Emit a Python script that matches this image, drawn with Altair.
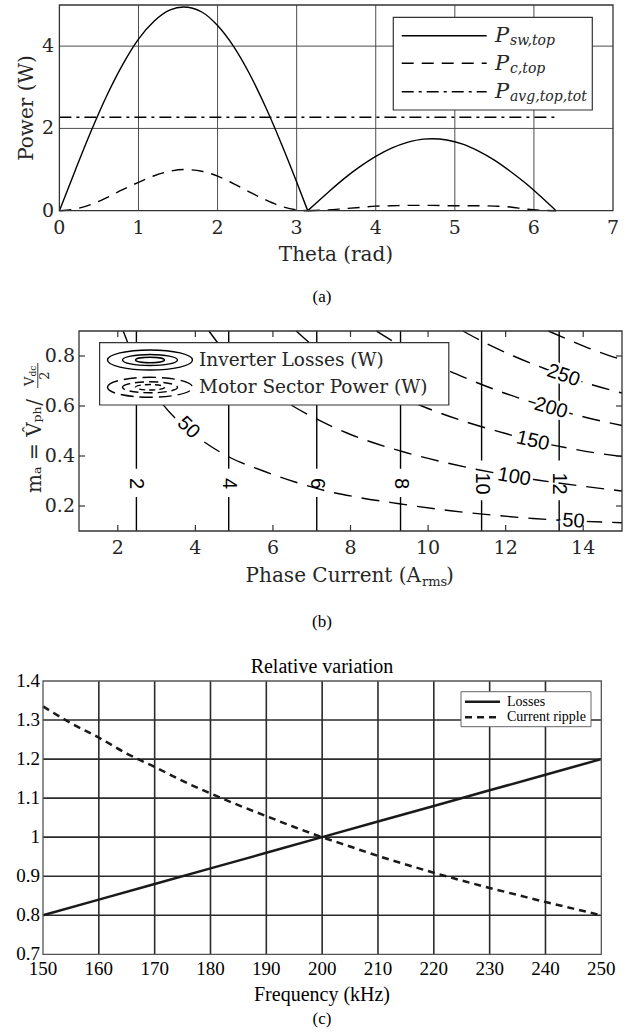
import altair as alt
import pandas as pd

SERIF = "DejaVu Serif"
TIMES = "'Liberation Serif', 'Times New Roman', Times, serif"
SANS = "'Liberation Sans', Arial, Helvetica, sans-serif"
INK = "#262626"

# ---------------- Panel (a) data ----------------
theta_hump1 = [0, 0.2, 0.4, 0.6, 0.8, 1.0, 1.2, 1.4, 1.57, 1.8, 2.0, 2.2, 2.4, 2.6, 2.8, 3.0, 3.14]
psw_hump1 = [0, 0.98, 1.93, 2.80, 3.55, 4.17, 4.61, 4.88, 4.95, 4.83, 4.50, 4.00, 3.34, 2.55, 1.66, 0.70, 0]
pc_hump1 = [0, 0.04, 0.15, 0.32, 0.51, 0.69, 0.85, 0.96, 1.0, 0.96, 0.84, 0.66, 0.46, 0.27, 0.11, 0.02, 0]
theta_hump2 = [3.14, 3.4, 3.6, 3.8, 4.0, 4.2, 4.4, 4.6, 4.71, 4.9, 5.1, 5.3, 5.5, 5.7, 5.9, 6.1, 6.28]
psw_hump2 = [0, 0.45, 0.78, 1.07, 1.32, 1.52, 1.66, 1.74, 1.75, 1.72, 1.62, 1.45, 1.23, 0.96, 0.66, 0.32, 0]
pc_hump2 = [0, 0.02, 0.05, 0.08, 0.11, 0.12, 0.13, 0.13, 0.13, 0.12, 0.12, 0.12, 0.11, 0.09, 0.04, 0.01, 0]
theta_avg = [0, 6.28]
p_avg = [2.27, 2.27]
a_x_ticks = [0, 1, 2, 3, 4, 5, 6, 7]
a_y_ticks = [0, 2, 4]
a_x_grid = [1, 2, 3, 4, 5, 6]
a_y_grid = [2, 4]

# ---------------- Panel (b) data ----------------
b_x_ticks = [2, 4, 6, 8, 10, 12, 14]
b_y_ticks = [0.2, 0.4, 0.6, 0.8]
b_y_labels = ["0.2", "0.4", "0.6", "0.8"]
loss_levels = ["2", "4", "6", "8", "10", "12"]
loss_current = [2.48, 4.86, 7.13, 9.29, 11.38, 13.38]
loss_gap_low = [0.236, 0.236, 0.236, 0.236, 0.223, 0.223]
loss_gap_high = [0.349, 0.349, 0.349, 0.349, 0.382, 0.382]
loss_label_ma = 0.29

p50_I = [2.14, 2.4, 3.0, 3.77, 4.24, 4.88, 5.72, 6.57, 7.41, 8.15, 9.21, 10.58, 11.64, 12.70, 13.7, 15.0]
p50_m = [0.90, 0.80, 0.64, 0.51, 0.455, 0.395, 0.342, 0.296, 0.259, 0.236, 0.21, 0.181, 0.164, 0.15, 0.141, 0.133]
p100_I = [4.35, 4.85, 5.5, 6.36, 7.10, 7.94, 9.42, 10.58, 11.8, 12.9, 14.0, 15.0]
p100_m = [0.90, 0.80, 0.705, 0.614, 0.55, 0.49, 0.414, 0.369, 0.33, 0.302, 0.279, 0.26]
p150_I = [6.6, 7.2, 8.0, 9.0, 10.0, 11.0, 12.0, 12.7, 13.5, 14.3, 15.0]
p150_m = [0.90, 0.82, 0.74, 0.655, 0.59, 0.535, 0.49, 0.46, 0.435, 0.413, 0.398]
p200_I = [8.67, 9.3, 10.0, 11.0, 12.0, 13.17, 14.0, 15.0]
p200_m = [0.90, 0.84, 0.78, 0.71, 0.65, 0.592, 0.557, 0.522]
p250_I = [10.9, 11.5, 12.2, 13.0, 13.49, 14.2, 15.0]
p250_m = [0.90, 0.85, 0.80, 0.75, 0.722, 0.686, 0.652]
p300_I = [13.1, 13.7, 14.3, 15.0]
p300_m = [0.90, 0.86, 0.822, 0.785]

power_label_text = ["50", "50", "100", "150", "200", "250"]
power_label_I = [3.82, 13.75, 12.22, 12.70, 13.17, 13.49]
power_label_m = [0.514, 0.140, 0.316, 0.460, 0.592, 0.722]

# ---------------- Panel (c) data ----------------
freq_losses = [150, 160, 170, 180, 190, 200, 210, 220, 230, 240, 250]
rel_losses = [0.80, 0.84, 0.88, 0.92, 0.96, 1.00, 1.04, 1.08, 1.12, 1.16, 1.20]
freq_ripple = [150, 155, 160, 165, 170, 175, 180, 185, 190, 195, 200, 205, 210, 215, 220, 225, 230, 235, 240, 245, 250]
rel_ripple = [1.335, 1.292, 1.255, 1.214, 1.18, 1.144, 1.112, 1.082, 1.054, 1.026, 1.0, 0.976, 0.952, 0.93,
              0.909, 0.889, 0.87, 0.852, 0.834, 0.817, 0.80]
c_x_ticks = [150, 160, 170, 180, 190, 200, 210, 220, 230, 240, 250]
c_y_ticks = [0.7, 0.8, 0.9, 1.0, 1.1, 1.2, 1.3, 1.4]
c_y_labels = ["0.7", "0.8", "0.9", "1", "1.1", "1.2", "1.3", "1.4"]
c_x_grid = [160, 170, 180, 190, 200, 210, 220, 230, 240]
c_y_grid = [0.8, 0.9, 1.0, 1.1, 1.2, 1.3]

# ---------------- layout (pixels) ----------------
A_L, A_R, A_T, A_B = 59.4, 613, 5, 210.7
B_L, B_R, B_T, B_B = 79, 622, 331, 531
C_L, C_R, C_T, C_B = 43, 601.3, 681, 954.3

sxa = alt.Scale(domain=[0, 7], range=[A_L, A_R], nice=False, zero=False)
sya = alt.Scale(domain=[0, 5], range=[A_B, A_T], nice=False, zero=False)
sxb = alt.Scale(domain=[1, 15], range=[B_L, B_R], nice=False, zero=False)
syb = alt.Scale(domain=[0.1, 0.9], range=[B_B, B_T], nice=False, zero=False)
sxc = alt.Scale(domain=[150, 250], range=[C_L, C_R], nice=False, zero=False)
syc = alt.Scale(domain=[0.7, 1.4], range=[C_B, C_T], nice=False, zero=False)

ONE = pd.DataFrame({"k": [0]})
layers = []


def X(f, s):
    return alt.X(f, scale=s, axis=None)


def Y(f, s):
    return alt.Y(f, scale=s, axis=None)


def txt(text, x, y, size, font=SERIF, align="center", baseline="middle", angle=0, style="normal", color=INK):
    return alt.Chart(ONE).mark_text(text=text, font=font, fontSize=size, align=align, baseline=baseline,
                                    angle=angle, fontStyle=style, color=color).encode(
        x=alt.value(x), y=alt.value(y))


def vgrid(vals, lo, hi, sx, sy, color, w):
    df = pd.DataFrame({"v": vals, "lo": lo, "hi": hi})
    return alt.Chart(df).mark_rule(color=color, strokeWidth=w).encode(
        x=X("v:Q", sx), y=Y("lo:Q", sy), y2="hi:Q")


def hgrid(vals, lo, hi, sx, sy, color, w):
    df = pd.DataFrame({"v": vals, "lo": lo, "hi": hi})
    return alt.Chart(df).mark_rule(color=color, strokeWidth=w).encode(
        y=Y("v:Q", sy), x=X("lo:Q", sx), x2="hi:Q")


def frame(x0, x1, y0, y1, sx, sy, color, w):
    df = pd.DataFrame({"x0": [x0], "x1": [x1], "y0": [y0], "y1": [y1]})
    return alt.Chart(df).mark_rect(fillOpacity=0, stroke=color, strokeWidth=w).encode(
        x=X("x0:Q", sx), x2="x1:Q", y=Y("y0:Q", sy), y2="y1:Q")


# ================= Panel (a) =================
layers.append(vgrid(a_x_grid, 0, 5, sxa, sya, "#4d4d4d", 1))
layers.append(hgrid(a_y_grid, 0, 7, sxa, sya, "#4d4d4d", 1))

df_sw = pd.DataFrame({"t": theta_hump1 + theta_hump2, "p": psw_hump1 + psw_hump2,
                      "seg": [1] * len(theta_hump1) + [2] * len(theta_hump2)})
df_c = pd.DataFrame({"t": theta_hump1 + theta_hump2, "p": pc_hump1 + pc_hump2,
                     "seg": [1] * len(theta_hump1) + [2] * len(theta_hump2)})
df_avg = pd.DataFrame({"t": theta_avg, "p": p_avg})
layers.append(alt.Chart(df_sw).mark_line(color="black", strokeWidth=1.4, interpolate="monotone").encode(
    x=X("t:Q", sxa), y=Y("p:Q", sya), detail="seg:N"))
layers.append(alt.Chart(df_c).mark_line(color="black", strokeWidth=1.4, strokeDash=[12, 8],
                                        interpolate="monotone").encode(
    x=X("t:Q", sxa), y=Y("p:Q", sya), detail="seg:N"))
layers.append(alt.Chart(df_avg).mark_line(color="black", strokeWidth=1.4, strokeDash=[12, 5, 3, 5]).encode(
    x=X("t:Q", sxa), y=Y("p:Q", sya)))
layers.append(frame(0, 7, 0, 5, sxa, sya, "#333333", 1.3))

# tick labels
layers.append(alt.Chart(pd.DataFrame({"v": a_x_ticks, "t": [str(v) for v in a_x_ticks]})).mark_text(
    font=SERIF, fontSize=19, color=INK, baseline="middle").encode(
    x=X("v:Q", sxa), y=alt.value(228), text="t:N"))
layers.append(alt.Chart(pd.DataFrame({"v": a_y_ticks, "t": [str(v) for v in a_y_ticks]})).mark_text(
    font=SERIF, fontSize=19, color=INK, align="right", baseline="middle").encode(
    y=Y("v:Q", sya), x=alt.value(54), text="t:N"))
layers.append(txt("Theta (rad)", 336, 255, 20))
layers.append(txt("Power (W)", 27, 108, 20, angle=270))
layers.append(txt("(a)", 322, 297, 17, font=TIMES, color="black"))

# legend (a)
layers.append(alt.Chart(ONE).mark_rect(fill="white", stroke="#333333", strokeWidth=1.2).encode(
    x=alt.value(393.3), x2=alt.value(592.3), y=alt.value(17.3), y2=alt.value(110)))
leg_a = [("sw,top", 35.7, []), ("c,top", 63.3, [12, 8]), ("avg,top,tot", 91.7, [12, 5, 3, 5])]
for sub, ly, dash in leg_a:
    kw = {"strokeDash": dash} if dash else {}
    layers.append(alt.Chart(ONE).mark_rule(color="black", strokeWidth=1.4, **kw).encode(
        x=alt.value(401.7), x2=alt.value(486.7), y=alt.value(ly)))
    layers.append(txt("P", 495, ly + 6.5, 21, align="left", baseline="alphabetic", style="italic"))
    layers.append(txt(sub, 510, ly + 9.5, 14, align="left", baseline="alphabetic", style="italic"))

# ================= Panel (b) =================
seg_I, seg_lo, seg_hi = [], [], []
for cur, glo, ghi in zip(loss_current, loss_gap_low, loss_gap_high):
    seg_I += [cur, cur]
    seg_lo += [0.1, ghi]
    seg_hi += [glo, 0.9]
layers.append(alt.Chart(pd.DataFrame({"I": seg_I, "lo": seg_lo, "hi": seg_hi})).mark_rule(
    color="black", strokeWidth=1.4).encode(x=X("I:Q", sxb), y=Y("lo:Q", syb), y2="hi:Q"))

pw_rows = []
for lvl, Is, ms in [(50, p50_I, p50_m), (100, p100_I, p100_m), (150, p150_I, p150_m),
                    (200, p200_I, p200_m), (250, p250_I, p250_m), (300, p300_I, p300_m)]:
    for i, (a, b) in enumerate(zip(Is, ms)):
        pw_rows.append({"lvl": lvl, "I": a, "m": b, "o": i})
df_pw = pd.DataFrame(pw_rows)
layers.append(alt.Chart(df_pw).mark_line(color="black", strokeWidth=1.4, strokeDash=[18, 10],
                                         interpolate="monotone").encode(
    x=X("I:Q", sxb), y=Y("m:Q", syb), detail="lvl:N", order="o:Q"))

# contour labels
df_loss_lab = pd.DataFrame({"I": loss_current, "m": [loss_label_ma] * len(loss_current), "t": loss_levels})
layers.append(alt.Chart(df_loss_lab).mark_text(font=SANS, fontSize=20, color="black", angle=90,
                                               baseline="middle").encode(
    x=X("I:Q", sxb), y=Y("m:Q", syb), text="t:N"))
label_angles = [45, 4, 10, 13, 16, 19]
for t, a, b, ang in zip(power_label_text, power_label_I, power_label_m, label_angles):
    d = pd.DataFrame({"I": [a], "m": [b], "t": [t]})
    layers.append(alt.Chart(d).mark_text(font=SANS, fontSize=20, color="white", stroke="white",
                                         strokeWidth=6, angle=ang, baseline="middle").encode(
        x=X("I:Q", sxb), y=Y("m:Q", syb), text="t:N"))
    layers.append(alt.Chart(d).mark_text(font=SANS, fontSize=20, color="black", angle=ang,
                                         baseline="middle").encode(
        x=X("I:Q", sxb), y=Y("m:Q", syb), text="t:N"))

layers.append(frame(1, 15, 0.1, 0.9, sxb, syb, "#333333", 1.3))
# inward ticks
bt = pd.DataFrame({"v": b_x_ticks})
layers.append(alt.Chart(bt).mark_rule(color="#333333", strokeWidth=1.2).encode(
    x=X("v:Q", sxb), y=alt.value(B_B), y2=alt.value(B_B - 6)))
layers.append(alt.Chart(bt).mark_rule(color="#333333", strokeWidth=1.2).encode(
    x=X("v:Q", sxb), y=alt.value(B_T), y2=alt.value(B_T + 6)))
byt = pd.DataFrame({"v": b_y_ticks})
layers.append(alt.Chart(byt).mark_rule(color="#333333", strokeWidth=1.2).encode(
    y=Y("v:Q", syb), x=alt.value(B_L), x2=alt.value(B_L + 6)))
layers.append(alt.Chart(byt).mark_rule(color="#333333", strokeWidth=1.2).encode(
    y=Y("v:Q", syb), x=alt.value(B_R), x2=alt.value(B_R - 6)))

layers.append(alt.Chart(pd.DataFrame({"v": b_x_ticks, "t": [str(v) for v in b_x_ticks]})).mark_text(
    font=SERIF, fontSize=19, color=INK, baseline="middle").encode(
    x=X("v:Q", sxb), y=alt.value(548), text="t:N"))
layers.append(alt.Chart(pd.DataFrame({"v": b_y_ticks, "t": b_y_labels})).mark_text(
    font=SERIF, fontSize=19, color=INK, align="right", baseline="middle").encode(
    y=Y("v:Q", syb), x=alt.value(75), text="t:N"))

# x title (b)
layers.append(txt("Phase Current (A", 421, 582, 20, align="right", baseline="alphabetic"))
layers.append(txt("rms", 422, 586, 13, align="left", baseline="alphabetic"))
layers.append(txt(")", 446, 582, 20, align="left", baseline="alphabetic"))
# y title (b)
layers.append(txt("mₐ = V̂ₚₕ/", 41, 399, 20, align="right", baseline="alphabetic", angle=270))
layers.append(txt("V", 33.5, 386, 13, align="left", baseline="alphabetic", angle=270))
layers.append(txt("dc", 36, 376.5, 9, align="left", baseline="alphabetic", angle=270))
layers.append(alt.Chart(ONE).mark_rule(color=INK, strokeWidth=0.9).encode(
    x=alt.value(37.8), y=alt.value(363), y2=alt.value(388)))
layers.append(txt("2", 49, 375.5, 13, align="center", baseline="alphabetic", angle=270))
layers.append(txt("(b)", 322, 622, 17, font=TIMES, color="black"))

# legend (b)
layers.append(alt.Chart(ONE).mark_rect(fill="white", stroke="#333333", strokeWidth=1.2).encode(
    x=alt.value(99.6), x2=alt.value(448.8), y=alt.value(342.7), y2=alt.value(405)))
ellipses = [("M-1,0A1,0.235,0,1,1,1,0A1,0.235,0,1,1,-1,0Z", 7225, [13, 6]),
            ("M-1,0A1,0.2,0,1,1,1,0A1,0.2,0,1,1,-1,0Z", 3025, [9, 5]),
            ("M-1,0A1,0.19,0,1,1,1,0A1,0.19,0,1,1,-1,0Z", 841, [6, 4])]
for path, size, dash in ellipses:
    layers.append(alt.Chart(ONE).mark_point(shape=path, size=size, filled=False, stroke="black",
                                            strokeWidth=1.4, opacity=1).encode(
        x=alt.value(150), y=alt.value(360)))
    layers.append(alt.Chart(ONE).mark_point(shape=path, size=size, filled=False, stroke="black",
                                            strokeWidth=1.4, strokeDash=dash, opacity=1).encode(
        x=alt.value(150), y=alt.value(387.3)))
layers.append(txt("Inverter Losses (W)", 199, 360, 18.5, align="left"))
layers.append(txt("Motor Sector Power (W)", 199, 387.3, 18.5, align="left"))

# ================= Panel (c) =================
layers.append(vgrid(c_x_grid, 0.7, 1.4, sxc, syc, "#2b2b2b", 1.6))
layers.append(hgrid(c_y_grid, 150, 250, sxc, syc, "#2b2b2b", 1.6))
layers.append(alt.Chart(pd.DataFrame({"f": freq_losses, "r": rel_losses})).mark_line(
    color="#1a1a1a", strokeWidth=2.5).encode(x=X("f:Q", sxc), y=Y("r:Q", syc)))
layers.append(alt.Chart(pd.DataFrame({"f": freq_ripple, "r": rel_ripple})).mark_line(
    color="#1a1a1a", strokeWidth=2.5, strokeDash=[7, 5], interpolate="monotone").encode(
    x=X("f:Q", sxc), y=Y("r:Q", syc)))
layers.append(frame(150, 250, 0.7, 1.4, sxc, syc, "#555555", 1.3))

layers.append(alt.Chart(pd.DataFrame({"v": c_x_ticks, "t": [str(v) for v in c_x_ticks]})).mark_text(
    font=TIMES, fontSize=19, color="black", baseline="middle").encode(
    x=X("v:Q", sxc), y=alt.value(969), text="t:N"))
layers.append(alt.Chart(pd.DataFrame({"v": c_y_ticks, "t": c_y_labels})).mark_text(
    font=TIMES, fontSize=19, color="black", align="right", baseline="middle").encode(
    y=Y("v:Q", syc), x=alt.value(40), text="t:N"))
layers.append(txt("Relative variation", 322, 667, 20, font=TIMES, color="black"))
layers.append(txt("Frequency (kHz)", 322, 995, 20, font=TIMES, color="black"))
layers.append(txt("(c)", 322, 1019, 17, font=TIMES, color="black"))

# legend (c)
layers.append(alt.Chart(ONE).mark_rect(fill="white", stroke="#666666", strokeWidth=1).encode(
    x=alt.value(461), x2=alt.value(591), y=alt.value(691.7), y2=alt.value(726.7)))
layers.append(alt.Chart(ONE).mark_rule(color="#1a1a1a", strokeWidth=2.5).encode(
    x=alt.value(465), x2=alt.value(500), y=alt.value(701.7)))
layers.append(alt.Chart(ONE).mark_rule(color="#1a1a1a", strokeWidth=2.5, strokeDash=[7, 5]).encode(
    x=alt.value(465), x2=alt.value(500), y=alt.value(717.3)))
layers.append(txt("Losses", 507, 701.7, 14, font=TIMES, align="left", color="black"))
layers.append(txt("Current ripple", 507, 717.3, 14, font=TIMES, align="left", color="black"))

chart = alt.layer(*layers).resolve_scale(x="independent", y="independent").properties(
    width=642, height=1032, autosize=alt.AutoSizeParams(type="none"), padding=0
).configure_view(strokeWidth=0)

chart.save("out.html", embed_options={"renderer": "svg", "actions": False})
